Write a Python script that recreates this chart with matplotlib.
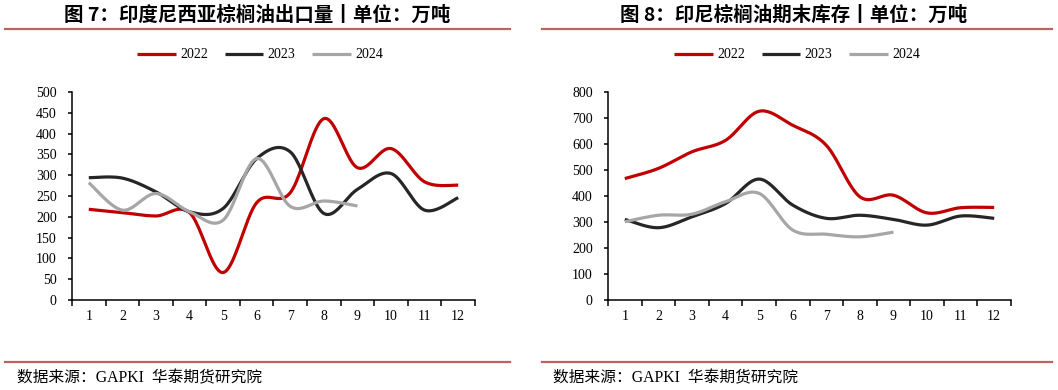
import numpy as np
import matplotlib
matplotlib.use("Agg")
import matplotlib.pyplot as plt
from matplotlib.lines import Line2D

# ---------------- data ----------------
months = list(range(1, 13))
month_labels = [str(m) for m in months]

export_2022 = [218, 210, 202, 210, 66, 234, 258, 436, 318, 364, 284, 276]
export_2023 = [294, 293, 260, 212, 220, 340, 356, 208, 266, 304, 216, 246]
export_2024 = [282, 216, 256, 212, 192, 340, 225, 238, 226]

stock_2022 = [467, 506, 570, 614, 726, 672, 595, 397, 403, 335, 355, 356]
stock_2023 = [310, 278, 320, 371, 465, 365, 314, 326, 310, 288, 323, 314]
stock_2024 = [301, 326, 330, 378, 410, 269, 253, 243, 261]

years = ["2022", "2023", "2024"]
colors = ["#C00000", "#262626", "#A6A6A6"]

title_left = "图 7：印度尼西亚棕榈油出口量丨单位：万吨"
title_right = "图 8：印尼棕榈油期末库存丨单位：万吨"
source_text = "数据来源：GAPKI  华泰期货研究院"

W, H = 1058, 390
fig = plt.figure(figsize=(W / 100, H / 100), dpi=100)

SERIF = ["Liberation Serif", "Noto Sans CJK SC"]
CJK = ["Noto Sans CJK SC", "DejaVu Sans"]


def smooth(x, y, n=24):
    pts = np.column_stack([x, y]).astype(float)
    out = []
    for i in range(len(pts) - 1):
        p0 = pts[i - 1] if i > 0 else pts[i]
        p1 = pts[i]
        p2 = pts[i + 1]
        p3 = pts[i + 2] if i + 2 < len(pts) else pts[i + 1]
        c1 = p1 + (p2 - p0) / 6
        c2 = p2 - (p3 - p1) / 6
        t = np.linspace(0, 1, n)[:, None]
        seg = (1 - t) ** 3 * p1 + 3 * (1 - t) ** 2 * t * c1 + 3 * (1 - t) * t ** 2 * c2 + t ** 3 * p2
        out.append(seg if i == 0 else seg[1:])
    s = np.vstack(out)
    return s[:, 0], s[:, 1]


def make_axes(x0px, series, ymax, ystep, title, title_cx, legend_cx):
    ax = fig.add_axes([x0px / W, 1 - 300 / H, 403 / W, 208 / H])
    for vals, c, lab in zip(series, colors, years):
        xs, ys = smooth(months[:len(vals)], vals)
        ax.plot(xs, ys, color=c, lw=2.3, label=lab, solid_capstyle="butt")
    ax.set_xlim(0.5, 12.5)
    ax.set_ylim(0, ymax)
    ax.set_yticks(np.arange(0, ymax + 1, ystep))
    ax.set_xticks(np.arange(0.5, 13, 1))
    ax.set_xticklabels([])
    ax.set_xticks(months, minor=True)
    ax.set_xticklabels(month_labels, minor=True)
    for s in ["top", "right"]:
        ax.spines[s].set_visible(False)
    for s in ["left", "bottom"]:
        ax.spines[s].set_linewidth(1.1)
        ax.spines[s].set_color("black")
    ax.tick_params(axis="x", which="major", direction="out", length=4, width=1.1)
    ax.tick_params(axis="x", which="minor", length=0, pad=7, labelsize=10)
    ax.tick_params(axis="y", direction="out", length=3, width=1.1, pad=8, labelsize=10)
    for lbl in ax.get_xticklabels(minor=True) + ax.get_yticklabels():
        lbl.set_family(SERIF)
    fig.legend(handles=ax.get_lines(), labels=years, loc="center",
               bbox_to_anchor=(legend_cx / W, 1 - 55 / H), ncol=3, frameon=False,
               handlelength=2.8, handletextpad=0.3, columnspacing=1.2,
               prop={"family": SERIF, "size": 10})
    fig.text(title_cx / W, 1 - 15 / H, title, ha="center", va="center",
             fontsize=14, fontweight="bold", family=CJK)
    return ax


make_axes(72, [export_2022, export_2023, export_2024], 500, 50, title_left, 257, 260)
make_axes(608, [stock_2022, stock_2023, stock_2024], 800, 100, title_right, 794, 797)

line_color = "#C06060"
for (xa, xb) in [(5, 510), (542, 1052)]:
    for yy in (29, 362):
        fig.add_artist(Line2D([xa / W, xb / W], [1 - yy / H, 1 - yy / H],
                              transform=fig.transFigure, color=line_color, lw=1.6))

fig.text(17 / W, 1 - 378 / H, source_text, ha="left", va="center", fontsize=11.3, family=SERIF)
fig.text(553 / W, 1 - 378 / H, source_text, ha="left", va="center", fontsize=11.3, family=SERIF)

fig.savefig("out.png", dpi=100)
